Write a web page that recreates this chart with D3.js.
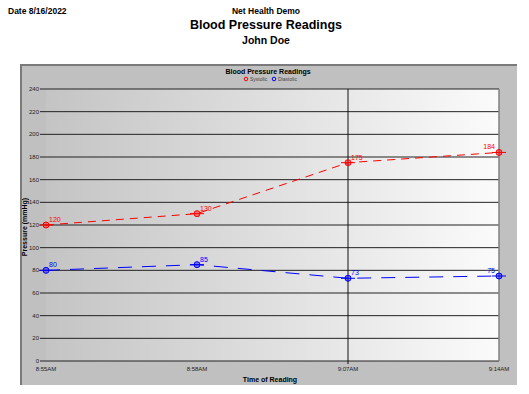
<!DOCTYPE html>
<html>
<head>
<meta charset="utf-8">
<script src="https://cdn.jsdelivr.net/npm/d3@7"></script>
<style>
  body { margin: 0; background: #fff; }
  text { font-family: "Liberation Sans", Arial, sans-serif; }
</style>
</head>
<body>
<div id="chart"></div>
<script>
// Chart data
const times = ["8:55AM", "8:58AM", "9:07AM", "9:14AM"];
const systolic = [120, 130, 175, 184];
const diastolic = [80, 85, 73, 75];
const yTicks = [0, 20, 40, 60, 80, 100, 120, 140, 160, 180, 200, 220, 240];

// SVG dimensions
const w = 529;
const h = 394;
const plotLeft = 46;
const plotRight = 499;
const plotTop = 89;
const plotBottom = 361;

const svg = d3.select("#chart")
    .append("svg")
    .attr("width", w)
    .attr("height", h);

// Page header
svg.append("text").attr("x", 8).attr("y", 14)
    .style("font-size", "8.5px").style("font-weight", "bold")
    .text("Date  8/16/2022");
svg.append("text").attr("x", 266).attr("y", 14).attr("text-anchor", "middle")
    .style("font-size", "8.5px").style("font-weight", "bold")
    .text("Net Health Demo");
svg.append("text").attr("x", 266).attr("y", 29).attr("text-anchor", "middle")
    .style("font-size", "12.5px").style("font-weight", "bold")
    .text("Blood Pressure Readings");
svg.append("text").attr("x", 266).attr("y", 44).attr("text-anchor", "middle")
    .style("font-size", "10.5px").style("font-weight", "bold")
    .text("John Doe");

// Chart panel
svg.append("rect")
    .attr("x", 20).attr("y", 64).attr("width", 497).attr("height", 321)
    .attr("fill", "#c0c0c0");
svg.append("path")
    .attr("d", "M21,385V65H517")
    .attr("fill", "none").attr("stroke", "#7a7a7a").attr("stroke-width", 2);

// Plot background gradient
const grad = svg.append("defs").append("linearGradient")
    .attr("id", "bg").attr("x1", "0").attr("x2", "1").attr("y1", "0").attr("y2", "0");
grad.append("stop").attr("offset", "0").attr("stop-color", "#c4c4c4");
grad.append("stop").attr("offset", "1").attr("stop-color", "#fbfbfb");

svg.append("rect")
    .attr("x", plotLeft).attr("y", plotTop)
    .attr("width", plotRight - plotLeft).attr("height", plotBottom - plotTop)
    .attr("fill", "url(#bg)");

// Scales
const xScale = d3.scalePoint()
    .domain(times)
    .range([plotLeft, plotRight]);

const yScale = d3.scaleLinear()
    .domain([0, 240])
    .range([plotBottom, plotTop]);

// Gridlines
svg.selectAll(".grid")
    .data(yTicks)
    .enter()
    .append("line")
    .attr("class", "grid")
    .attr("x1", plotLeft - 6).attr("x2", plotRight)
    .attr("y1", d => yScale(d)).attr("y2", d => yScale(d))
    .attr("stroke", "#222").attr("stroke-width", 1);

// Single vertical line at 9:07AM
svg.append("line")
    .attr("x1", xScale(times[2])).attr("x2", xScale(times[2]))
    .attr("y1", plotTop).attr("y2", plotBottom + 3)
    .attr("stroke", "#111");

// Plot right border
svg.append("line")
    .attr("x1", plotRight).attr("x2", plotRight).attr("y1", plotTop).attr("y2", plotBottom)
    .attr("stroke", "#808080").attr("stroke-width", 1.5);

// Axes labels
svg.selectAll(".ylab")
    .data(yTicks)
    .enter()
    .append("text")
    .attr("class", "ylab")
    .attr("x", plotLeft - 7).attr("y", d => yScale(d) + 2)
    .attr("text-anchor", "end")
    .style("font-size", "6px").attr("fill", "#222")
    .text(d => d);

svg.selectAll(".xlab")
    .data(times)
    .enter()
    .append("text")
    .attr("class", "xlab")
    .attr("x", d => xScale(d)).attr("y", plotBottom + 10)
    .attr("text-anchor", "middle")
    .style("font-size", "6px").attr("fill", "#222")
    .text(d => d);

svg.append("text")
    .attr("x", 270).attr("y", 382).attr("text-anchor", "middle")
    .style("font-size", "7px").style("font-weight", "bold")
    .text("Time of Reading");

svg.append("text")
    .attr("transform", "translate(27,227) rotate(-90)")
    .attr("text-anchor", "middle")
    .style("font-size", "7px").style("font-weight", "bold")
    .text("Pressure (mmHg)");

// Inner chart title and legend
svg.append("text")
    .attr("x", 268).attr("y", 74).attr("text-anchor", "middle")
    .style("font-size", "7px").style("font-weight", "bold")
    .text("Blood Pressure Readings");

const legend = [["Systolic", "red", 246], ["Diastolic", "blue", 274]];
legend.forEach(function(l) {
    svg.append("circle")
        .attr("cx", l[2]).attr("cy", 79).attr("r", 1.8)
        .attr("fill", "none").attr("stroke", l[1]);
    svg.append("text")
        .attr("x", l[2] + 4).attr("y", 81)
        .style("font-size", "5px").attr("fill", "#444")
        .text(l[0]);
});

// Draw a series
function drawSeries(values, color, dash) {
    const pts = values.map((v, i) => [xScale(times[i]), yScale(v)]);

    svg.append("path")
        .datum(pts)
        .attr("fill", "none")
        .attr("stroke", color)
        .attr("stroke-width", 1)
        .attr("stroke-dasharray", dash)
        .attr("d", d3.line());

    svg.selectAll(".mk-" + color)
        .data(pts)
        .enter()
        .append("circle")
        .attr("class", "mk-" + color)
        .attr("cx", d => d[0]).attr("cy", d => d[1]).attr("r", 3)
        .attr("fill", color).attr("fill-opacity", 0.45)
        .attr("stroke", color);

    svg.selectAll(".tick-" + color)
        .data(pts)
        .enter()
        .append("line")
        .attr("class", "tick-" + color)
        .attr("x1", d => d[0] - 7).attr("x2", d => d[0] + 7)
        .attr("y1", d => d[1]).attr("y2", d => d[1])
        .attr("stroke", color);

    svg.selectAll(".val-" + color)
        .data(values)
        .enter()
        .append("text")
        .attr("class", "val-" + color)
        .attr("x", (d, i) => xScale(times[i]) + (i === 3 ? -4 : 3))
        .attr("y", d => yScale(d) - 3)
        .attr("text-anchor", (d, i) => i === 3 ? "end" : "start")
        .style("font-size", "7px").attr("fill", color)
        .text(d => d);
}

drawSeries(systolic, "red", "8,6");
drawSeries(diastolic, "blue", "14,10");
</script>
</body>
</html>
